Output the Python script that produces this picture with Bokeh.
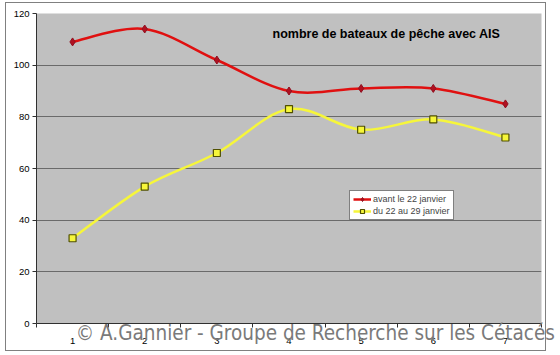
import numpy as np
from bokeh.plotting import figure
from bokeh.models import (Range1d, FixedTicker, Legend, LegendItem, Label,
                          ColumnDataSource, InlineStyleSheet)
from bokeh.embed import file_html
from bokeh.resources import INLINE

# ---- data ----
categories = [1, 2, 3, 4, 5, 6, 7]
avant = [109, 114, 102, 90, 91, 91, 85]
du22 = [33, 53, 66, 83, 75, 79, 72]
y_ticks = [0, 20, 40, 60, 80, 100, 120]
title_text = "nombre de bateaux de pêche avec AIS"
legend_labels = ["avant le 22 janvier", "du 22 au 29 janvier"]
watermark = "© A.Gannier - Groupe de Recherche sur les Cétacés"


def smooth_segments(xs, ys):
    """Catmull-Rom style bezier control points between consecutive points."""
    xs = np.asarray(xs, float)
    ys = np.asarray(ys, float)
    n = len(xs)
    px = np.concatenate([[xs[0]], xs, [xs[-1]]])
    py = np.concatenate([[ys[0]], ys, [ys[-1]]])
    d = dict(x0=[], y0=[], x1=[], y1=[], cx0=[], cy0=[], cx1=[], cy1=[])
    for i in range(n - 1):
        j = i + 1
        d["x0"].append(px[j]); d["y0"].append(py[j])
        d["x1"].append(px[j + 1]); d["y1"].append(py[j + 1])
        d["cx0"].append(px[j] + (px[j + 1] - px[j - 1]) / 6)
        d["cy0"].append(py[j] + (py[j + 1] - py[j - 1]) / 6)
        d["cx1"].append(px[j + 1] - (px[j + 2] - px[j]) / 6)
        d["cy1"].append(py[j + 1] - (py[j + 2] - py[j]) / 6)
    return ColumnDataSource(d)


border_css = InlineStyleSheet(css="""
:host { position: relative; }
:host::after {
  content: ""; position: absolute; left: 5px; top: 2px;
  width: 541px; height: 349px; border: 1px solid #808080;
  pointer-events: none; box-sizing: border-box;
}
""")

p = figure(width=560, height=355, output_backend="svg", toolbar_location=None,
           x_range=Range1d(0.5, 7.5), y_range=Range1d(0, 120),
           min_border_left=36, min_border_right=19, min_border_top=13,
           min_border_bottom=32, stylesheets=[border_css])
p.background_fill_color = "#c0c0c0"
p.border_fill_color = "white"
p.outline_line_color = None

# axes
p.xaxis.ticker = FixedTicker(ticks=categories,
                             minor_ticks=[c - 0.5 for c in categories] + [categories[-1] + 0.5])
p.xaxis.major_tick_out = 0
p.xaxis.major_tick_in = 0
p.xaxis.minor_tick_out = 4
p.xaxis.minor_tick_in = 0
p.xaxis.minor_tick_line_color = "#303030"
p.xaxis.axis_line_color = "#303030"
p.xaxis.major_label_text_font = "Liberation Sans"
p.xaxis.major_label_text_font_size = "9.5px"
p.xaxis.major_label_standoff = 10
p.xaxis.major_label_text_color = "black"
# watermark (non-breaking spaces shift the centred label to the right)
p.xaxis.axis_label = "\u00a0" * 9 + watermark
p.xaxis.axis_label_text_font = "DejaVu Sans Condensed"
p.xaxis.axis_label_text_font_style = "normal"
p.xaxis.axis_label_text_font_size = "20.5px"
p.xaxis.axis_label_text_color = "#7a7a7a"
p.xaxis.axis_label_standoff = -26

p.yaxis.ticker = FixedTicker(ticks=y_ticks)
p.yaxis.minor_tick_line_color = None
p.yaxis.major_tick_out = 4
p.yaxis.major_tick_in = 0
p.yaxis.major_tick_line_color = "#303030"
p.yaxis.axis_line_color = "#303030"
p.yaxis.major_label_text_font = "Liberation Sans"
p.yaxis.major_label_text_font_size = "9.5px"
p.yaxis.major_label_standoff = 3
p.yaxis.major_label_text_color = "black"

p.xgrid.grid_line_color = None
p.ygrid.grid_line_color = "#6a6a6a"
p.ygrid.grid_line_width = 1

# series
red_src = smooth_segments(categories, avant)
yel_src = smooth_segments(categories, du22)
p.bezier(x0="x0", y0="y0", x1="x1", y1="y1", cx0="cx0", cy0="cy0",
         cx1="cx1", cy1="cy1", source=red_src, line_color="#e01010", line_width=2.5)
p.bezier(x0="x0", y0="y0", x1="x1", y1="y1", cx0="cx0", cy0="cy0",
         cx1="cx1", cy1="cy1", source=yel_src, line_color="#f6f63a", line_width=2.5)
r_red = p.scatter(categories, avant, marker="diamond", size=8,
                  fill_color="#b01020", line_color="#901020")
r_yel = p.scatter(categories, du22, marker="square", size=7,
                  fill_color="#f6f63a", line_color="#505000", line_width=1.2)

# legend-only line renderers (hidden)
leg_red = p.line(categories, avant, line_color="#e01010", line_width=2.5, visible=False)
leg_yel = p.line(categories, du22, line_color="#f6f63a", line_width=2.5, visible=False)

legend = Legend(items=[LegendItem(label=legend_labels[0], renderers=[leg_red, r_red]),
                       LegendItem(label=legend_labels[1], renderers=[leg_yel, r_yel])],
                location=(313, 103))
legend.label_text_font = "Liberation Sans"
legend.label_text_font_size = "9px"
legend.label_height = 10
legend.glyph_height = 10
legend.glyph_width = 18
legend.spacing = 2
legend.padding = 3
legend.margin = 0
legend.label_standoff = 2
legend.border_line_color = "black"
legend.border_line_width = 1
legend.background_fill_color = "white"
legend.background_fill_alpha = 1
legend.inactive_fill_alpha = 0
p.add_layout(legend)

# title inside plot
p.add_layout(Label(x=236, y=283, x_units="screen", y_units="screen",
                   text=title_text, text_font="Liberation Sans",
                   text_font_style="bold", text_font_size="12.5px",
                   text_color="black"))

open("out.html", "w").write(file_html(p, INLINE))
